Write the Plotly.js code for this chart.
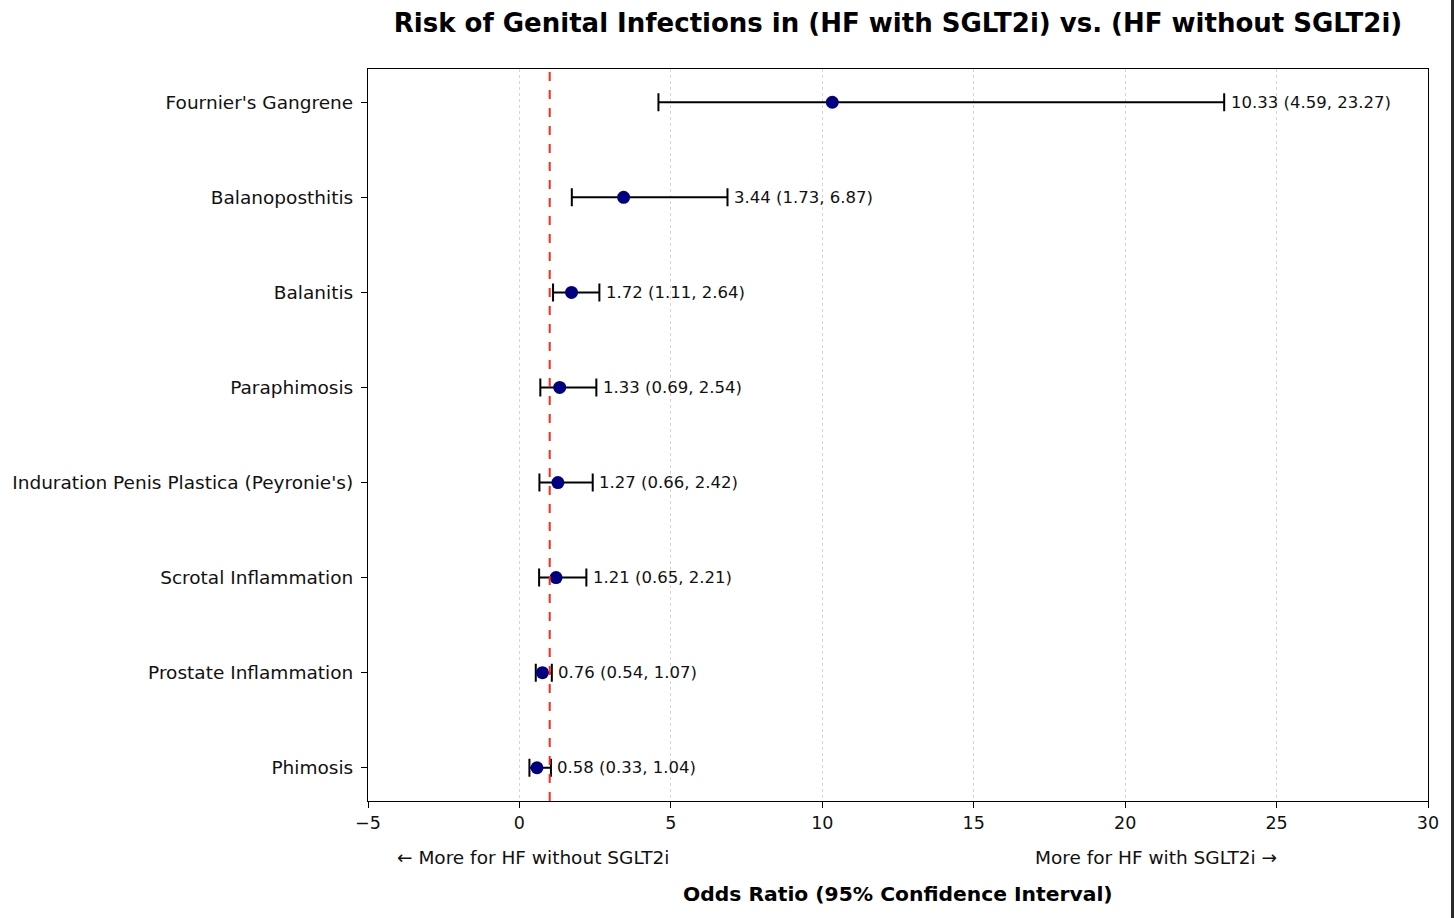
<!DOCTYPE html>
<html>
<head>
<meta charset="utf-8">
<script src="https://cdn.plot.ly/plotly-3.0.1.min.js"></script>
<style>
  html, body { margin: 0; padding: 0; background: #fff; }
  #chart { width: 1454px; height: 918px; }
  #edge { position: absolute; top: 0; right: 0; width: 3px; height: 918px; background: #2b2b2b; }
</style>
</head>
<body>
<div id="chart"></div>
<div id="edge"></div>
<script>
// Data (top to bottom)
const outcomes = ["Fournier's Gangrene", "Balanoposthitis", "Balanitis", "Paraphimosis",
  "Induration Penis Plastica (Peyronie's)", "Scrotal Inflammation", "Prostate Inflammation", "Phimosis"];
const oddsRatio = [10.33, 3.44, 1.72, 1.33, 1.27, 1.21, 0.76, 0.58];
const ciLower = [4.59, 1.73, 1.11, 0.69, 0.66, 0.65, 0.54, 0.33];
const ciUpper = [23.27, 6.87, 2.64, 2.54, 2.42, 2.21, 1.07, 1.04];
const xTicks = [-5, 0, 5, 10, 15, 20, 25, 30];
const refLine = 1;

const font = "DejaVu Sans, sans-serif";

const trace = {
  type: 'scatter',
  mode: 'markers',
  x: oddsRatio,
  y: outcomes,
  marker: { color: '#000080', size: 13 },
  error_x: {
    type: 'data',
    symmetric: false,
    array: oddsRatio.map((v, i) => ciUpper[i] - v),
    arrayminus: oddsRatio.map((v, i) => v - ciLower[i]),
    color: '#000000',
    thickness: 2,
    width: 9
  },
  hoverinfo: 'x+y',
  showlegend: false
};

const labelAnnotations = outcomes.map((o, i) => ({
  x: ciUpper[i] + 0.15,
  y: o,
  xref: 'x', yref: 'y',
  text: oddsRatio[i].toFixed(2) + ' (' + ciLower[i].toFixed(2) + ', ' + ciUpper[i].toFixed(2) + ')',
  showarrow: false,
  xanchor: 'left', yanchor: 'middle',
  font: { family: font, size: 16.5, color: '#111' }
}));

const layout = {
  width: 1454, height: 918,
  margin: { l: 368, r: 26, t: 69, b: 117 },
  paper_bgcolor: '#fff', plot_bgcolor: '#fff',
  font: { family: font, color: '#111' },
  title: {
    text: '<b>Risk of Genital Infections in (HF with SGLT2i) vs. (HF without SGLT2i)</b>',
    x: 0.5, xref: 'paper', xanchor: 'center',
    y: 1 - 23 / 918, yanchor: 'middle',
    font: { family: font, size: 26, color: '#000' }
  },
  xaxis: {
    range: [-5, 30],
    tickvals: xTicks,
    ticktext: xTicks.map(v => v < 0 ? '\u2212' + Math.abs(v) : String(v)),
    ticks: 'outside', ticklen: 6, tickwidth: 1.2, tickcolor: '#000',
    tickfont: { family: font, size: 17.5, color: '#111' },
    showline: true, linecolor: '#000', linewidth: 1.2, mirror: true,
    showgrid: true, gridcolor: '#d4d4d4', griddash: 'dot', gridwidth: 1,
    zeroline: false
  },
  yaxis: {
    type: 'category',
    categoryorder: 'array', categoryarray: outcomes,
    range: [7.35, -0.35],
    ticks: 'outside', ticklen: 6, tickwidth: 1.2, tickcolor: '#000',
    ticklabelstandoff: 4,
    tickfont: { family: font, size: 18.5, color: '#111' },
    showline: true, linecolor: '#000', linewidth: 1.2, mirror: true,
    showgrid: false, zeroline: false
  },
  shapes: [{
    type: 'line', xref: 'x', yref: 'paper',
    x0: refLine, x1: refLine, y0: 0, y1: 1,
    line: { color: '#ff2a1a', width: 2, dash: 'dash' }
  }],
  annotations: labelAnnotations.concat([
    {
      x: -4.1, xref: 'x', y: -57 / 732, yref: 'paper',
      text: '\u2190 More for HF without SGLT2i', showarrow: false,
      xanchor: 'left', yanchor: 'middle',
      font: { family: font, size: 18.5, color: '#111' }
    },
    {
      x: 25.07, xref: 'x', y: -57 / 732, yref: 'paper',
      text: 'More for HF with SGLT2i \u2192', showarrow: false,
      xanchor: 'right', yanchor: 'middle',
      font: { family: font, size: 18.5, color: '#111' }
    },
    {
      x: 0.5, xref: 'paper', y: -93 / 732, yref: 'paper',
      text: '<b>Odds Ratio (95% Confidence Interval)</b>', showarrow: false,
      xanchor: 'center', yanchor: 'middle',
      font: { family: font, size: 20.3, color: '#000' }
    }
  ])
};

Plotly.newPlot('chart', [trace], layout, { displayModeBar: false, responsive: false });
</script>
</body>
</html>
